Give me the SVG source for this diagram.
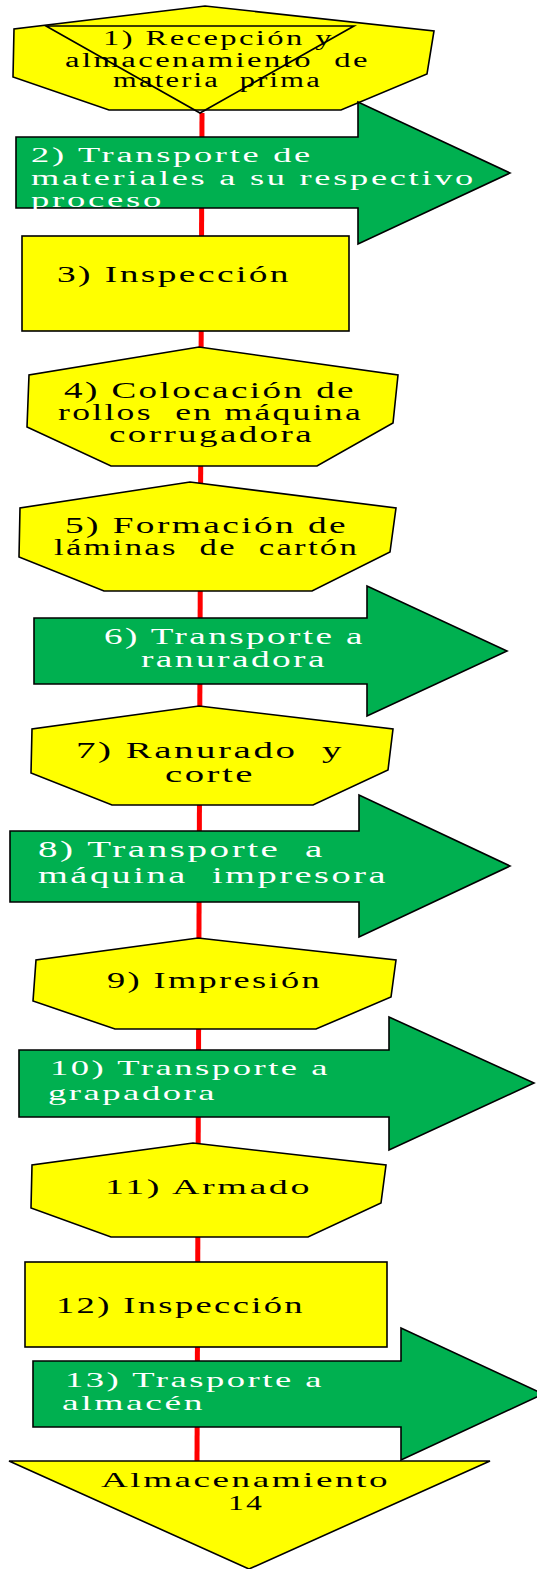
<svg xmlns="http://www.w3.org/2000/svg" width="537" height="1569" viewBox="0 0 537 1569">
<style>
.y{fill:#FFFF00;stroke:#000;stroke-width:1.6;stroke-linejoin:miter}
.g{fill:#00B050;stroke:#000;stroke-width:1.6;stroke-linejoin:miter}
.tk{font-family:"Liberation Serif","Times New Roman",serif;fill:#000;letter-spacing:1.5px}
.tw{font-family:"Liberation Serif","Times New Roman",serif;fill:#fff;letter-spacing:1.5px}
</style>
<rect width="537" height="1569" fill="#fff"/>
<g id="connectors">
<line x1="202" y1="113" x2="197" y2="1462" stroke="#FF0000" stroke-width="5"/>
</g>
<g id="n1">
<polygon class="y" points="205,6 434,31 427,74 341,110 109,110 13,77 14,29"/>
<polygon fill="none" stroke="#000" stroke-width="1.6" points="46,26 354,26 200,113"/>
<text class="tk" font-size="20" x="103" y="45" textLength="231" lengthAdjust="spacingAndGlyphs">1) Recepción y</text>
<text class="tk" font-size="20" x="65" y="67" textLength="305" lengthAdjust="spacingAndGlyphs" xml:space="preserve">almacenamiento  de</text>
<text class="tk" font-size="20" x="113" y="87" textLength="209" lengthAdjust="spacingAndGlyphs" xml:space="preserve">materia  prima</text>
</g>
<g id="n2">
<polygon class="g" points="16,137 358,137 358,102 510,173 358,244 358,208 16,208"/>
<text class="tw" font-size="20" x="31" y="162" textLength="282" lengthAdjust="spacingAndGlyphs">2) Transporte de</text>
<text class="tw" font-size="20" x="31" y="185" textLength="445" lengthAdjust="spacingAndGlyphs">materiales a su respectivo</text>
<text class="tw" font-size="20" x="31" y="207" textLength="133" lengthAdjust="spacingAndGlyphs">proceso</text>
</g>
<g id="n3">
<rect class="y" x="22" y="236" width="327" height="95"/>
<text class="tk" font-size="23" x="57" y="282" textLength="234" lengthAdjust="spacingAndGlyphs">3) Inspección</text>
</g>
<g id="n4">
<polygon class="y" points="199,347 398,375 393,423 317,466 111,466 27,427 29,375"/>
<text class="tk" font-size="23" x="64" y="398" textLength="292" lengthAdjust="spacingAndGlyphs">4) Colocación de</text>
<text class="tk" font-size="23" x="58" y="420" textLength="305" lengthAdjust="spacingAndGlyphs" xml:space="preserve">rollos  en máquina</text>
<text class="tk" font-size="23" x="109" y="442" textLength="205" lengthAdjust="spacingAndGlyphs">corrugadora</text>
</g>
<g id="n5">
<polygon class="y" points="190,482 396,508 390,552 312,591 104,591 19,557 20,508"/>
<text class="tk" font-size="23" x="65" y="533" textLength="283" lengthAdjust="spacingAndGlyphs">5) Formación de</text>
<text class="tk" font-size="23" x="54" y="555" textLength="305" lengthAdjust="spacingAndGlyphs" xml:space="preserve">láminas  de  cartón</text>
</g>
<g id="n6">
<polygon class="g" points="34,618 367,618 367,586 507,651 367,716 367,684 34,684"/>
<text class="tw" font-size="23" x="104" y="644" textLength="261" lengthAdjust="spacingAndGlyphs">6) Transporte a</text>
<text class="tw" font-size="23" x="141" y="667" textLength="186" lengthAdjust="spacingAndGlyphs">ranuradora</text>
</g>
<g id="n7">
<polygon class="y" points="199,706 393,729 388,770 313,805 112,805 31,773 32,729"/>
<text class="tk" font-size="23" x="76" y="758" textLength="268" lengthAdjust="spacingAndGlyphs" xml:space="preserve">7) Ranurado  y</text>
<text class="tk" font-size="23" x="165" y="782" textLength="90" lengthAdjust="spacingAndGlyphs">corte</text>
</g>
<g id="n8">
<polygon class="g" points="10,831 359,831 359,795 510,866 359,937 359,902 10,902"/>
<text class="tw" font-size="23" x="38" y="857" textLength="287" lengthAdjust="spacingAndGlyphs" xml:space="preserve">8) Transporte  a</text>
<text class="tw" font-size="23" x="38" y="883" textLength="350" lengthAdjust="spacingAndGlyphs" xml:space="preserve">máquina  impresora</text>
</g>
<g id="n9">
<polygon class="y" points="198,938 396,960 391,997 316,1029 115,1029 33,1001 36,960"/>
<text class="tk" font-size="23" x="107" y="988" textLength="215" lengthAdjust="spacingAndGlyphs">9) Impresión</text>
</g>
<g id="n10">
<polygon class="g" points="19,1050 389,1050 389,1017 534,1083 389,1150 389,1117 19,1117"/>
<text class="tw" font-size="22" x="50" y="1075" textLength="280" lengthAdjust="spacingAndGlyphs">10) Transporte a</text>
<text class="tw" font-size="22" x="48" y="1100" textLength="169" lengthAdjust="spacingAndGlyphs">grapadora</text>
</g>
<g id="n11">
<polygon class="y" points="193,1143 386,1165 381,1203 308,1237 111,1237 31,1208 32,1165"/>
<text class="tk" font-size="22" x="105" y="1194" textLength="207" lengthAdjust="spacingAndGlyphs">11) Armado</text>
</g>
<g id="n12">
<rect class="y" x="25" y="1262" width="362" height="85"/>
<text class="tk" font-size="23" x="56" y="1313" textLength="249" lengthAdjust="spacingAndGlyphs">12) Inspección</text>
</g>
<g id="n13">
<polygon class="g" points="33,1361 401,1361 401,1328 543,1394 401,1460 401,1427 33,1427"/>
<text class="tw" font-size="22" x="65" y="1387" textLength="259" lengthAdjust="spacingAndGlyphs">13) Trasporte a</text>
<text class="tw" font-size="22" x="62" y="1410" textLength="143" lengthAdjust="spacingAndGlyphs">almacén</text>
</g>
<g id="n14">
<polygon class="y" points="9,1461 490,1461 249,1569"/>
<text class="tk" font-size="22" x="101" y="1487" textLength="289" lengthAdjust="spacingAndGlyphs">Almacenamiento</text>
<text class="tk" font-size="22" x="228" y="1510" textLength="36" lengthAdjust="spacingAndGlyphs">14</text>
</g>
</svg>
